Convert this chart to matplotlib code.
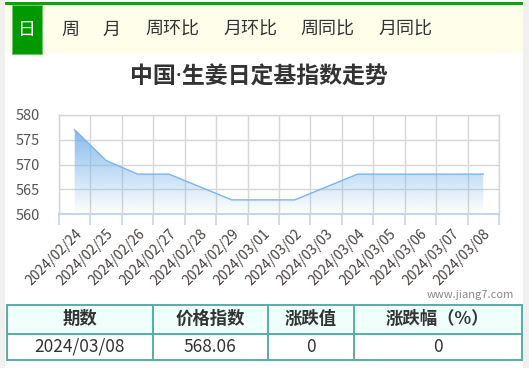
import matplotlib
matplotlib.use("Agg")
import matplotlib.pyplot as plt
import numpy as np
from matplotlib.patches import Rectangle
from matplotlib.colors import to_rgb

plt.rcParams['font.family'] = ['Noto Sans CJK SC', 'DejaVu Sans']

# ---- data ----
dates = ["2024/02/24", "2024/02/25", "2024/02/26", "2024/02/27", "2024/02/28",
         "2024/02/29", "2024/03/01", "2024/03/02", "2024/03/03", "2024/03/04",
         "2024/03/05", "2024/03/06", "2024/03/07", "2024/03/08"]
values = [577.0, 570.8, 568.06, 568.06, 565.45, 562.85, 562.85, 562.85,
          565.45, 568.06, 568.06, 568.06, 568.06, 568.06]
y_ticks = [560, 565, 570, 575, 580]
tabs = ["日", "周", "月", "周环比", "月环比", "周同比", "月同比"]
title = "中国·生姜日定基指数走势"
table_header = ["期数", "价格指数", "涨跌值", "涨跌幅（%）"]
table_row = ["2024/03/08", "568.06", "0", "0"]
watermark = "www.jiang7.com"

W, H = 529, 368
fig = plt.figure(figsize=(W / 100, H / 100), dpi=100)
fig.patch.set_facecolor("white")

def fx(x):
    return x / W

def fy(y):
    return 1 - y / H

def rect(x0, y0, x1, y1, **kw):
    fig.patches.append(Rectangle((fx(x0), fy(y1)), fx(x1) - fx(x0), fy(y0) - fy(y1),
                                 transform=fig.transFigure, figure=fig, **kw))

# side strips
rect(0, 0, 5, H, facecolor="#f0f0f0", edgecolor="none")
rect(523, 0, W, H, facecolor="#f0f0f0", edgecolor="none")
# tab bar
rect(5, 5, 523, 54, facecolor="#fefeeb", edgecolor="none")
rect(5, 2.5, 523, 5, facecolor="#1a9a1a", edgecolor="none")
rect(12, 5, 42, 54, facecolor="#009900", edgecolor="#66cc66", linewidth=0.6)
tab_x = [27, 70, 111, 172, 250, 327, 405]
for i, (t, x) in enumerate(zip(tabs, tab_x)):
    fig.text(fx(x), fy(30), t, ha="center", va="center", fontsize=13,
             color="white" if i == 0 else "#333333")

# title (narrow middle dot from Noto Sans, CJK glyphs from Noto Sans CJK SC)
fig.text(fx(259), fy(78), title, ha="center", va="center", fontsize=16.5,
         fontweight="bold", color="#333333", family=["Noto Sans", "Noto Sans CJK SC"])

# ---- chart ----
L, R, T, B = 59, 499, 115, 214
ax = fig.add_axes([fx(L), fy(B), fx(R) - fx(L), fy(T) - fy(B)])
ax.set_facecolor("none")
n = len(dates)
x = np.arange(n)
ax.set_xlim(-0.5, n - 0.5)
ax.set_ylim(y_ticks[0], y_ticks[-1])

# gradient fill
line_color = "#7cb5ec"
rgb = np.array(to_rgb(line_color))
ymax = max(values)
grad_y = np.linspace(y_ticks[0], y_ticks[-1], 300)
alpha = np.clip((grad_y - y_ticks[0]) / (ymax - y_ticks[0]), 0, 1) * 0.92
img = np.zeros((300, 1, 4))
img[:, 0, :3] = rgb
img[:, 0, 3] = alpha
poly = ax.fill_between(x, values, y_ticks[0], facecolor="none", edgecolor="none")
im = ax.imshow(img, extent=[-0.5, n - 0.5, y_ticks[0], y_ticks[-1]], origin="lower",
               aspect="auto", zorder=2, interpolation="bilinear")
im.set_clip_path(poly.get_paths()[0], transform=ax.transData)
ax.plot(x, values, color=line_color, lw=1.0, zorder=3)

# grid & ticks
ax.set_yticks(y_ticks)
ax.set_xticks(np.arange(n + 1) - 0.5)
ax.set_xticks(x, minor=True)
ax.set_xticklabels([])
ax.set_xticklabels(dates, minor=True, rotation=45, ha="right", va="top",
                   rotation_mode="anchor", fontsize=10, color="#4a4040")
ax.tick_params(axis="x", which="major", length=8, color="#c6d6ea", width=1.2)
ax.tick_params(axis="x", which="minor", length=0, pad=9)
ax.tick_params(axis="y", length=0, pad=13.5, labelsize=10.5, labelcolor="#555555")
for lab in ax.get_yticklabels():
    lab.set_ha("right")
ax.grid(True, which="major", color="#d6d6d6", lw=1.0, zorder=0)
ax.set_axisbelow(True)
for s in ["top", "right", "left"]:
    ax.spines[s].set_color("#d6d6d6")
    ax.spines[s].set_linewidth(1.0)
ax.spines["bottom"].set_color("#c6d6ea")
ax.spines["bottom"].set_linewidth(1.5)

# watermark
fig.text(fx(470), fy(295.5), watermark, ha="center", va="center", fontsize=8,
         color="#888888")

# ---- table ----
cols = [6.7, 152.8, 267.5, 353.6, 522]
ty0, ty1, ty2 = 305, 333.5, 360
rect(cols[0], ty0, cols[-1], ty1, facecolor="#effff9", edgecolor="none")
border = "#5aaba4"
for yy in [ty0, ty1, ty2]:
    fig.add_artist(plt.Line2D([fx(cols[0]), fx(cols[-1])], [fy(yy), fy(yy)],
                              color=border, lw=1.4, transform=fig.transFigure))
for xx in cols:
    fig.add_artist(plt.Line2D([fx(xx), fx(xx)], [fy(ty0), fy(ty2)],
                              color=border, lw=1.4, transform=fig.transFigure))
for i in range(len(table_header)):
    cx = (cols[i] + cols[i + 1]) / 2
    fig.text(fx(cx), fy((ty0 + ty1) / 2), table_header[i], ha="center", va="center",
             fontsize=12.5, fontweight="bold", color="#333333")
    fig.text(fx(cx), fy((ty1 + ty2) / 2), table_row[i], ha="center", va="center",
             fontsize=12.5, color="#333333")

fig.savefig("out.png", dpi=100)
